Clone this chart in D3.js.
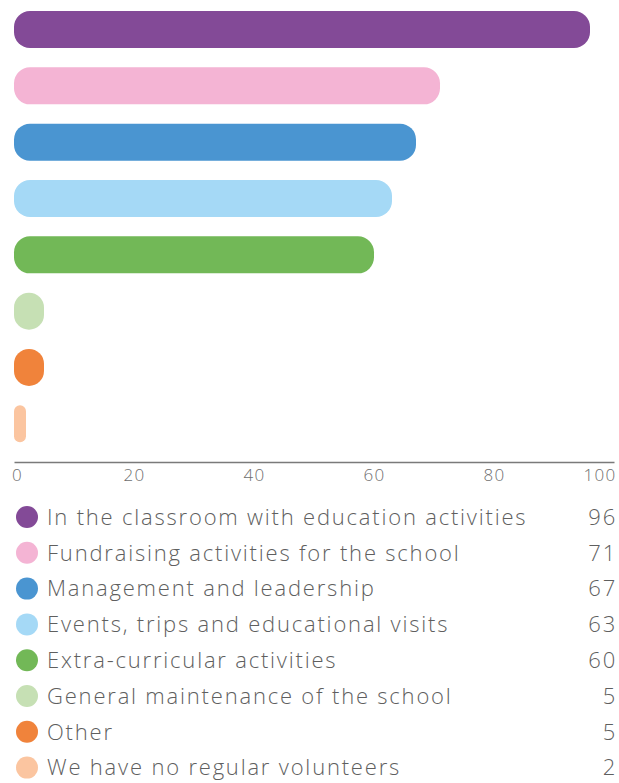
<!DOCTYPE html>
<html>
<head>
<meta charset="utf-8">
<script src="https://cdn.jsdelivr.net/npm/d3@7"></script>
<style>
  body { margin: 0; background: #fff; }
  svg { display: block; font-family: "Open Sans", sans-serif; }
</style>
</head>
<body>
<svg></svg>
<script>
// data
var categories = [
  "In the classroom with education activities",
  "Fundraising activities for the school",
  "Management and leadership",
  "Events, trips and educational visits",
  "Extra-curricular activities",
  "General maintenance of the school",
  "Other",
  "We have no regular volunteers"
];
var values = [96, 71, 67, 63, 60, 5, 5, 2];
var colors = ["#834a97", "#f4b4d4", "#4a95d1", "#a5d9f6", "#72b857", "#c6e0b4", "#f0833b", "#fbc5a0"];
var tickValues = [0, 20, 40, 60, 80, 100];

var svgWidth = 619, svgHeight = 783;

var svg = d3.select('svg')
    .attr('width', svgWidth)
    .attr('height', svgHeight);

var x = d3.scaleLinear().domain([0, 100]).range([14, 614]);
var y = d3.scaleBand()
    .domain(categories)
    .range([0.3, 453])
    .paddingInner(0.343)
    .paddingOuter(0.19);

// bars
svg.selectAll("rect.bar")
    .data(categories)
    .enter()
    .append("rect")
    .attr("class", "bar")
    .attr("x", x(0))
    .attr("y", function(d) { return y(d); })
    .attr("width", function(d, i) { return x(values[i]) - x(0); })
    .attr("height", y.bandwidth())
    .attr("rx", function(d, i) { return Math.min(16, (x(values[i]) - x(0)) / 2); })
    .attr("fill", function(d, i) { return colors[i]; });

// x axis
var axis = svg.append("g")
    .attr("transform", "translate(0,462)")
    .call(d3.axisBottom(x).tickValues(tickValues).tickSize(0).tickPadding(7));

axis.select(".domain").attr("stroke", "#7a7a7a").attr("stroke-width", 1.5);
axis.selectAll("text")
    .attr("font-size", 17)
    .attr("font-family", "Open Sans, sans-serif")
    .attr("font-weight", 300)
    .attr("letter-spacing", 1.3)
    .attr("fill", "#6e6e6e");
axis.selectAll(".tick").filter(function(d) { return d === 100; })
    .select("text").attr("text-anchor", "end").attr("dx", 2);
axis.selectAll(".tick").filter(function(d) { return d === 0; })
    .select("text").attr("dx", 3);

// legend
var legendTop = 517, legendStep = 35.8;
var legend = svg.selectAll("g.legend")
    .data(categories)
    .enter()
    .append("g")
    .attr("class", "legend")
    .attr("transform", function(d, i) { return "translate(0," + (legendTop + i * legendStep) + ")"; });

legend.append("circle")
    .attr("cx", 27)
    .attr("cy", 0)
    .attr("r", 11)
    .attr("fill", function(d, i) { return colors[i]; });

legend.append("text")
    .attr("x", 47)
    .attr("y", 0)
    .attr("dy", "0.35em")
    .attr("font-size", 22)
    .attr("font-weight", 300)
    .attr("letter-spacing", 1.8)
    .attr("fill", "#5f5f5f")
    .text(function(d) { return d; });

legend.append("text")
    .attr("x", 617)
    .attr("y", 0)
    .attr("dy", "0.35em")
    .attr("text-anchor", "end")
    .attr("font-size", 22)
    .attr("font-weight", 300)
    .attr("letter-spacing", 1.8)
    .attr("fill", "#5f5f5f")
    .text(function(d, i) { return values[i]; });
</script>
</body>
</html>
